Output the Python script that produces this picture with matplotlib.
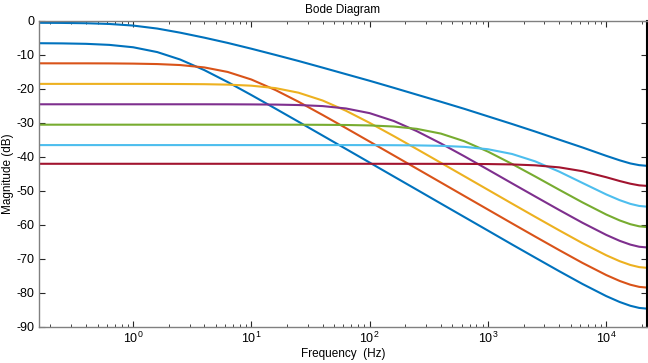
import numpy as np
import matplotlib
matplotlib.use("Agg")
import matplotlib.pyplot as plt
from matplotlib.ticker import LogLocator, MultipleLocator

plt.rcParams['font.family'] = ['Liberation Sans', 'DejaVu Sans']
plt.rcParams['axes.unicode_minus'] = False

# frequency grid (Hz) the values were read at
freq = [0.16, 0.25, 0.4, 0.63, 1, 1.6, 2.5, 4, 6.3, 10, 16, 25, 40, 63, 100,
        160, 250, 400, 630, 1000, 1600, 2500, 4000, 6300, 10000, 13000,
        16000, 19000, 22050]

# magnitude (dB) of each curve
total = [-0.53, -0.57, -0.66, -0.88, -1.35, -2.23, -3.44, -4.91, -6.45, -8.16,
         -9.99, -11.76, -13.72, -15.64, -17.59, -19.66, -21.66, -23.76, -25.83,
         -28.05, -30.3, -32.5, -34.9, -37.2, -39.66, -40.98, -41.9, -42.4, -42.6]
stage1 = [-6.54, -6.59, -6.72, -7.03, -7.73, -9.15, -11.34, -14.45, -17.96,
          -21.79, -25.79, -29.63, -33.7, -37.64, -41.65, -45.74, -49.61, -53.7,
          -57.64, -61.65, -65.74, -69.57, -73.58, -77.35, -80.91, -82.65,
          -83.76, -84.39, -84.6]
stage2 = [-12.45, -12.46, -12.46, -12.48, -12.54, -12.67, -12.96, -13.66,
          -14.99, -17.22, -20.32, -23.75, -27.64, -31.5, -35.48, -39.55,
          -43.42, -47.5, -51.45, -55.46, -59.54, -63.38, -67.38, -71.16,
          -74.72, -76.46, -77.57, -78.2, -78.41]
stage3 = [-18.5, -18.5, -18.5, -18.5, -18.5, -18.51, -18.54, -18.59, -18.72,
          -19.03, -19.75, -21.09, -23.39, -26.4, -29.97, -33.86, -37.66,
          -41.71, -45.64, -49.65, -53.73, -57.57, -61.57, -65.35, -68.9,
          -70.65, -71.76, -72.39, -72.6]
stage4 = [-24.5, -24.5, -24.5, -24.5, -24.5, -24.5, -24.5, -24.5, -24.51,
          -24.54, -24.59, -24.72, -25.03, -25.73, -27.11, -29.42, -32.39,
          -36.02, -39.77, -43.71, -47.76, -51.58, -55.58, -59.35, -62.91,
          -64.66, -65.77, -66.4, -66.6]
stage5 = [-30.5, -30.5, -30.5, -30.5, -30.5, -30.5, -30.5, -30.5, -30.5, -30.5,
          -30.5, -30.51, -30.54, -30.59, -30.72, -31.04, -31.72, -33.12,
          -35.36, -38.42, -42.05, -45.7, -49.63, -53.36, -56.92, -58.66,
          -59.77, -60.39, -60.6]
stage6 = [-36.5, -36.5, -36.5, -36.5, -36.5, -36.5, -36.5, -36.5, -36.5, -36.5,
          -36.5, -36.5, -36.5, -36.5, -36.51, -36.54, -36.59, -36.72, -37.02,
          -37.72, -39.12, -41.27, -44.3, -47.64, -51.01, -52.7, -53.79, -54.4,
          -54.61]
stage7 = [-42.0, -42.0, -42.0, -42.0, -42.0, -42.0, -42.0, -42.0, -42.0, -42.0,
          -42.0, -42.0, -42.0, -42.0, -42.0, -42.01, -42.01, -42.02, -42.03,
          -42.08, -42.19, -42.45, -43.05, -44.18, -45.95, -47.07, -47.86,
          -48.34, -48.5]

curves = [stage1, stage2, stage3, stage4, stage5, stage6, stage7, total]
colors = ['#0072BD', '#D95319', '#EDB120', '#7E2F8E', '#77AC30', '#4DBEEE',
          '#A2142F', '#0072BD']

fig = plt.figure(figsize=(6.48, 3.63), dpi=100)
ax = fig.add_axes([0.0602, 0.0992, 0.938, 0.8430])

for c, col in zip(curves, colors):
    ax.semilogx(freq, c, color=col, lw=1.5)

ax.set_xlim(0.16, 22050)
ax.set_ylim(-90, 0)
ax.yaxis.set_major_locator(MultipleLocator(10))
ax.xaxis.set_major_locator(LogLocator(base=10, numticks=12))
ax.xaxis.set_minor_locator(LogLocator(base=10, subs=np.arange(2, 10), numticks=12))

for s in ['left', 'bottom', 'top']:
    ax.spines[s].set_color('#808080')
    ax.spines[s].set_linewidth(1.0)
ax.spines['right'].set_color('black')
ax.spines['right'].set_linewidth(1.5)

ax.tick_params(which='both', direction='in', top=True, right=True,
               color='#262626', labelsize=9, pad=3)
ax.tick_params(which='major', length=4)
ax.tick_params(which='minor', length=2.5)

ax.set_title('Bode Diagram', fontsize=8.5, pad=6)
ax.set_xlabel('Frequency  (Hz)', fontsize=8.5, labelpad=1)
ax.set_ylabel('Magnitude (dB)', fontsize=8.5, labelpad=2)

fig.savefig('out.png', dpi=100)
